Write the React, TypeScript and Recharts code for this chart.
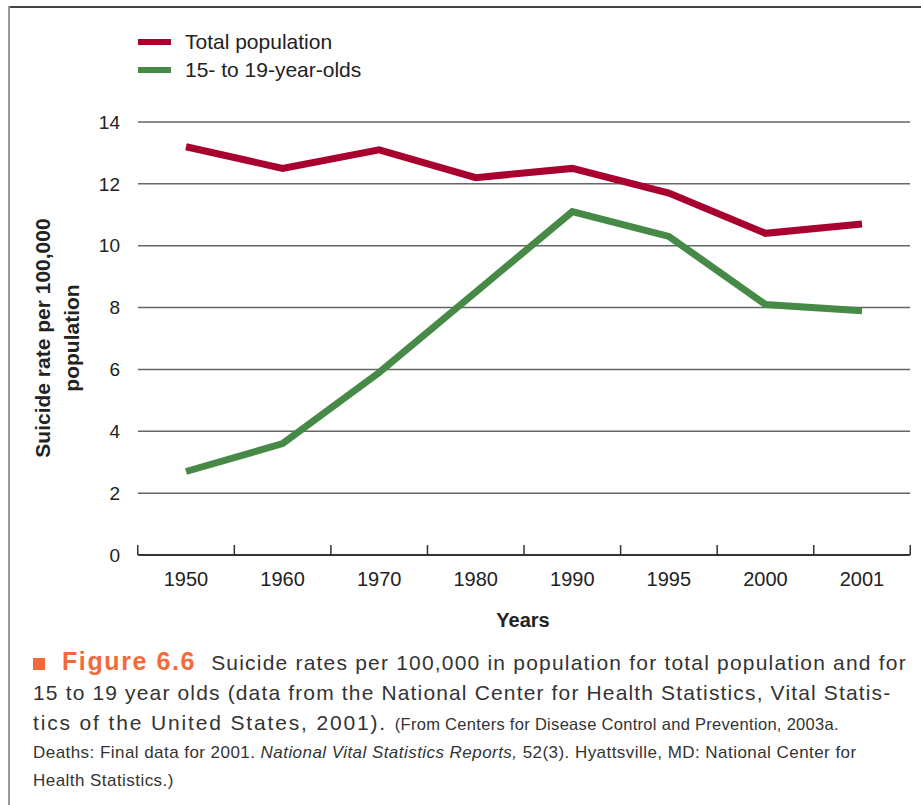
import React from 'react';
import {
  LineChart, Line, XAxis, YAxis, CartesianGrid, Legend,
} from 'recharts';

const years = ['1950', '1960', '1970', '1980', '1990', '1995', '2000', '2001'];
const totalPopulation = [13.2, 12.5, 13.1, 12.2, 12.5, 11.7, 10.4, 10.7];
const teens = [2.7, 3.6, 5.9, 8.5, 11.1, 10.3, 8.1, 7.9];
const yTicks = [0, 2, 4, 6, 8, 10, 12, 14];
const seriesOrder = ['total', 'teens'];

const RED = '#a8002f';
const GREEN = '#478a47';
const FONT = '"Liberation Sans", Arial, Helvetica, sans-serif';

const data = years.map((year, i) => ({
  year,
  total: totalPopulation[i],
  teens: teens[i],
}));

function LegendBox({ payload }: any) {
  const items = [...(payload ?? [])].sort(
    (a: any, b: any) => seriesOrder.indexOf(a.dataKey) - seriesOrder.indexOf(b.dataKey),
  );
  return (
    <div style={{ fontFamily: FONT, fontSize: 21, color: '#222' }}>
      {items.map((p: any) => (
        <div key={p.value} style={{ display: 'flex', alignItems: 'center', height: 28 }}>
          <span style={{ display: 'inline-block', width: 33, height: 6, background: p.color, marginRight: 14 }} />
          <span>{p.value}</span>
        </div>
      ))}
    </div>
  );
}

// year label under each point, tick marks on the category boundaries
function YearTick({ x, y, payload, index, width, visibleTicksCount }: any) {
  const count = visibleTicksCount || years.length;
  const half = (width || 772) / count / 2;
  const last = index === count - 1;
  return (
    <g>
      <line x1={x - half} x2={x - half} y1={y} y2={y - 10} stroke="#333" strokeWidth={1.5} />
      {last && <line x1={x + half} x2={x + half} y1={y} y2={y - 10} stroke="#333" strokeWidth={1.5} />}
      <text x={x} y={y + 17} dy="0.71em" textAnchor="middle" fontSize={20} fill="#222" fontFamily={FONT}>
        {payload.value}
      </text>
    </g>
  );
}

export default function App() {
  return (
    <div style={{ position: 'relative', width: 921, height: 805, background: '#fff', fontFamily: FONT, overflow: 'hidden' }}>
      <style>{'body{margin:0}'}</style>
      {/* frame */}
      <div style={{ position: 'absolute', left: 8, top: 6, width: 913, height: 2, background: '#444' }} />
      <div style={{ position: 'absolute', left: 8, top: 6, width: 1.5, height: 799, background: '#999' }} />

      <div style={{ position: 'absolute', left: 0, top: 0 }}>
        <LineChart width={921} height={640} data={data} margin={{ top: 122, right: 11, left: 78, bottom: 45 }}>
          <CartesianGrid vertical={false} stroke="#666" strokeWidth={1.5} />
          <XAxis
            dataKey="year"
            padding={{ left: 48, right: 48 }}
            height={40}
            interval={0}
            axisLine={{ stroke: '#333', strokeWidth: 2 }}
            tickLine={false}
            tickSize={0}
            tickMargin={0}
            tick={<YearTick />}
          />
          <YAxis
            width={60}
            domain={[0, 14]}
            ticks={yTicks}
            axisLine={false}
            tickLine={false}
            tickSize={0}
            tickMargin={18}
            tick={{ fontSize: 19, fill: '#222', fontFamily: FONT }}
          />
          <Legend
            layout="vertical"
            verticalAlign="middle"
            align="center"
            wrapperStyle={{ top: 28, left: 138, width: 'auto' }}
            content={<LegendBox />}
          />
          <Line
            type="linear"
            dataKey="total"
            name="Total population"
            stroke={RED}
            strokeWidth={7}
            dot={false}
            activeDot={false}
            isAnimationActive={false}
          />
          <Line
            type="linear"
            dataKey="teens"
            name="15- to 19-year-olds"
            stroke={GREEN}
            strokeWidth={7}
            dot={false}
            activeDot={false}
            isAnimationActive={false}
          />
        </LineChart>
      </div>

      {/* y axis title */}
      <div
        style={{
          position: 'absolute', left: 57, top: 338, transform: 'translate(-50%, -50%) rotate(-90deg)',
          fontSize: 21, fontWeight: 'bold', lineHeight: '29px', textAlign: 'center', whiteSpace: 'nowrap', color: '#222',
        }}
      >
        Suicide rate per 100,000<br />population
      </div>

      {/* x axis title */}
      <div
        style={{
          position: 'absolute', left: 523, top: 609, transform: 'translateX(-50%)',
          fontSize: 20, fontWeight: 'bold', color: '#222', whiteSpace: 'nowrap',
        }}
      >
        Years
      </div>

      {/* caption */}
      <div style={{ position: 'absolute', left: 33, top: 646, color: '#333', whiteSpace: 'nowrap' }}>
        <div style={{ fontSize: 21, lineHeight: '30px', letterSpacing: 1.2 }}>
          <span style={{ display: 'inline-block', width: 12, height: 12, background: '#f26a3c', marginRight: 17 }} />
          <span style={{ color: '#f26a3c', fontWeight: 'bold', fontSize: 25, letterSpacing: 1.6, marginRight: 8 }}>Figure 6.6</span>
          {' '}Suicide rates per 100,000 in population for total population and for
        </div>
        <div style={{ fontSize: 21, lineHeight: '30px', letterSpacing: 1.15 }}>
          15 to 19 year olds (data from the National Center for Health Statistics, Vital Statis-
        </div>
        <div style={{ fontSize: 21, lineHeight: '30px', letterSpacing: 1.85 }}>
          tics of the United States, 2001).{'  '}
          <span style={{ fontSize: 16.5, letterSpacing: 0.3 }}>(From Centers for Disease Control and Prevention, 2003a.</span>
        </div>
        <div style={{ fontSize: 17, lineHeight: '28px', letterSpacing: 0.45 }}>
          Deaths: Final data for 2001. <i>National Vital Statistics Reports,</i> 52(3). Hyattsville, MD: National Center for
        </div>
        <div style={{ fontSize: 17, lineHeight: '28px', letterSpacing: 0.45 }}>
          Health Statistics.)
        </div>
      </div>
    </div>
  );
}
